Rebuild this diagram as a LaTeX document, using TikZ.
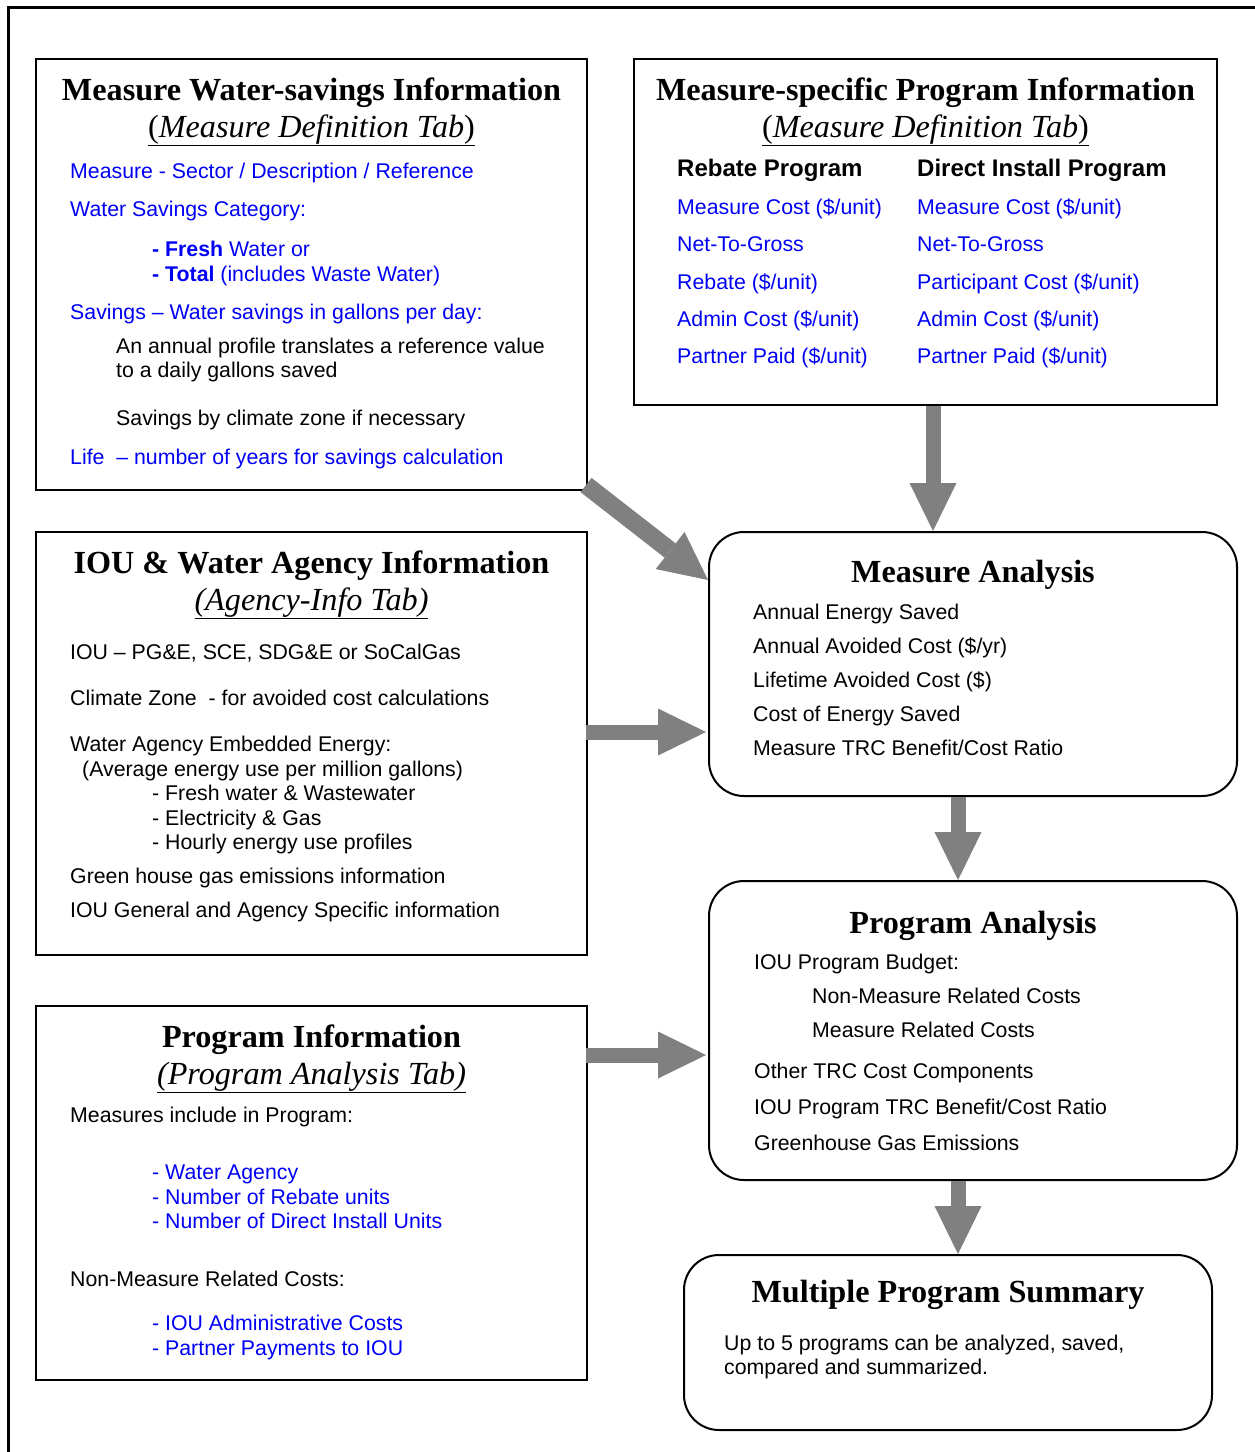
\documentclass[tikz,border=0pt]{standalone}
\usepackage{fontspec}
\setmainfont{Liberation Serif}
\setsansfont{Liberation Sans}
\usetikzlibrary{arrows.meta}
\definecolor{infoblue}{RGB}{0,0,245}
\definecolor{arrowgray}{RGB}{128,128,128}
\newcommand{\bodyfont}{\sffamily\fontsize{21.3}{25}\selectfont}
\newcommand{\headfont}{\sffamily\bfseries\fontsize{24}{28}\selectfont}
\newcommand{\titlefont}{\rmfamily\bfseries\fontsize{32.2}{38}\selectfont}
\newcommand{\tabfont}{\rmfamily\fontsize{32.2}{38}\selectfont}
\tikzset{
  infobox/.style={draw, line width=2pt, inner sep=0pt},
  resultbox/.style={infobox, rounded corners=35pt},
  ttl/.style={anchor=base, inner sep=0pt, font=\titlefont},
  tab/.style={anchor=base, inner sep=0pt, font=\tabfont},
  txt/.style={anchor=base west, inner sep=0pt, font=\bodyfont},
  btxt/.style={txt, text=infoblue},
  bigarrow/.style={draw=arrowgray, line width=15pt,
    -{Triangle[length=48pt, width=47pt, line width=0pt]}}
}
\begin{document}
\begin{tikzpicture}[x=1pt, y=-1pt]
  \useasboundingbox (0,0) rectangle (1255,1452);
  \draw[line width=3pt] (8,7) rectangle (1280,1480);

  \node[infobox, minimum width=551pt, minimum height=431pt] (ws) at (311.5,274.5) {};
  \node[ttl] (wsTitle) at (311.5,100) {Measure Water-savings Information};
  \node[tab] (wsTab) at (311.5,137) {\underline{(\textit{Measure Definition Tab})}};
  \node[btxt] (ws1) at (70,178) {Measure - Sector / Description / Reference};
  \node[btxt] (ws2) at (70,216) {Water Savings Category:};
  \node[btxt] (ws3) at (152,256) {\textbf{- Fresh} Water or};
  \node[btxt] (ws4) at (152,281) {\textbf{- Total} (includes Waste Water)};
  \node[btxt] (ws5) at (70,319) {Savings – Water savings in gallons per day:};
  \node[txt] (ws6) at (116,353) {An annual profile translates a reference value};
  \node[txt] (ws7) at (116,377) {to a daily gallons saved};
  \node[txt] (ws8) at (116,425) {Savings by climate zone if necessary};
  \node[btxt] (ws9) at (70,464) {Life\ \ – number of years for savings calculation};

  \node[infobox, minimum width=583pt, minimum height=346pt] (mp) at (925.5,232) {};
  \node[ttl] (mpTitle) at (925.5,100) {Measure-specific Program Information};
  \node[tab] (mpTab) at (925.5,137) {\underline{(\textit{Measure Definition Tab})}};
  \node[txt, font=\headfont] (mpReb) at (677,176) {Rebate Program};
  \node[txt, font=\headfont] (mpDir) at (917,176) {Direct Install Program};
  \node[btxt] (mpReb1) at (677,214) {Measure Cost (\$/unit)};
  \node[btxt] (mpReb2) at (677,251) {Net-To-Gross};
  \node[btxt] (mpReb3) at (677,289) {Rebate (\$/unit)};
  \node[btxt] (mpReb4) at (677,326) {Admin Cost (\$/unit)};
  \node[btxt] (mpReb5) at (677,363) {Partner Paid (\$/unit)};
  \node[btxt] (mpDir1) at (917,214) {Measure Cost (\$/unit)};
  \node[btxt] (mpDir2) at (917,251) {Net-To-Gross};
  \node[btxt] (mpDir3) at (917,289) {Participant Cost (\$/unit)};
  \node[btxt] (mpDir4) at (917,326) {Admin Cost (\$/unit)};
  \node[btxt] (mpDir5) at (917,363) {Partner Paid (\$/unit)};

  \node[infobox, minimum width=551pt, minimum height=423pt] (iou) at (311.5,743.5) {};
  \node[ttl] (iouTitle) at (311.5,573) {IOU \& Water Agency Information};
  \node[tab] (iouTab) at (311.5,610) {\underline{\textit{(Agency-Info Tab)}}};
  \node[txt] (iou1) at (70,659) {IOU – PG\&E, SCE, SDG\&E or SoCalGas};
  \node[txt] (iou2) at (70,705) {Climate Zone\ \ - for avoided cost calculations};
  \node[txt] (iou3) at (70,751) {Water Agency Embedded Energy:};
  \node[txt] (iou4) at (82,776) {(Average energy use per million gallons)};
  \node[txt] (iou5) at (152,800) {- Fresh water \& Wastewater};
  \node[txt] (iou6) at (152,825) {- Electricity \& Gas};
  \node[txt] (iou7) at (152,849) {- Hourly energy use profiles};
  \node[txt] (iou8) at (70,883) {Green house gas emissions information};
  \node[txt] (iou9) at (70,917) {IOU General and Agency Specific information};

  \node[infobox, minimum width=551pt, minimum height=374pt] (prog) at (311.5,1193) {};
  \node[ttl] (progTitle) at (311.5,1047) {Program Information};
  \node[tab] (progTab) at (311.5,1084) {\underline{\textit{(Program Analysis Tab)}}};
  \node[txt] (prog1) at (70,1122) {Measures include in Program:};
  \node[btxt] (prog2) at (152,1179) {- Water Agency};
  \node[btxt] (prog3) at (152,1204) {- Number of Rebate units};
  \node[btxt] (prog4) at (152,1228) {- Number of Direct Install Units};
  \node[txt] (prog5) at (70,1286) {Non-Measure Related Costs:};
  \node[btxt] (prog6) at (152,1330) {- IOU Administrative Costs};
  \node[btxt] (prog7) at (152,1355) {- Partner Payments to IOU};

  \node[resultbox, minimum width=528pt, minimum height=264pt] (ma) at (973,664) {};
  \node[ttl] (maTitle) at (973,582) {Measure Analysis};
  \node[txt] (ma1) at (753,619) {Annual Energy Saved};
  \node[txt] (ma2) at (753,653) {Annual Avoided Cost (\$/yr)};
  \node[txt] (ma3) at (753,687) {Lifetime Avoided Cost (\$)};
  \node[txt] (ma4) at (753,721) {Cost of Energy Saved};
  \node[txt] (ma5) at (753,755) {Measure TRC Benefit/Cost Ratio};

  \node[resultbox, minimum width=528pt, minimum height=299pt] (pa) at (973,1030.5) {};
  \node[ttl] (paTitle) at (973,933) {Program Analysis};
  \node[txt] (pa1) at (754,969) {IOU Program Budget:};
  \node[txt] (pa2) at (812,1003) {Non-Measure Related Costs};
  \node[txt] (pa3) at (812,1037) {Measure Related Costs};
  \node[txt] (pa4) at (754,1078) {Other TRC Cost Components};
  \node[txt] (pa5) at (754,1114) {IOU Program TRC Benefit/Cost Ratio};
  \node[txt] (pa6) at (754,1150) {Greenhouse Gas Emissions};

  \node[resultbox, minimum width=528pt, minimum height=175pt] (summ) at (948,1342.5) {};
  \node[ttl] (summTitle) at (948,1302) {Multiple Program Summary};
  \node[txt] (summ1) at (724,1350) {Up to 5 programs can be analyzed, saved,};
  \node[txt] (summ2) at (724,1374) {compared and summarized.};

  \draw[bigarrow] ([xshift=7.5pt]mp.south) -- ([xshift=7.5pt]mp.south |- ma.north);
  \draw[bigarrow, line width=18pt] ([xshift=-2pt,yshift=6pt]ws.south east) -- ([yshift=-49pt]ma.north west);
  \draw[bigarrow] ([xshift=-2pt,yshift=11.5pt]iou.east) -- ([xshift=-2pt,yshift=11.5pt]iou.east -| ma.west);
  \draw[bigarrow] ([xshift=-15pt]ma.south) -- ([xshift=-15pt]pa.north);
  \draw[bigarrow] ([xshift=-2pt,yshift=-50pt]prog.north east) -- ([xshift=-2pt,yshift=-50pt]prog.north east -| pa.west);
  \draw[bigarrow] ([xshift=-15pt]pa.south) -- ([xshift=-15pt]pa.south |- summ.north);
\end{tikzpicture}
\end{document}
